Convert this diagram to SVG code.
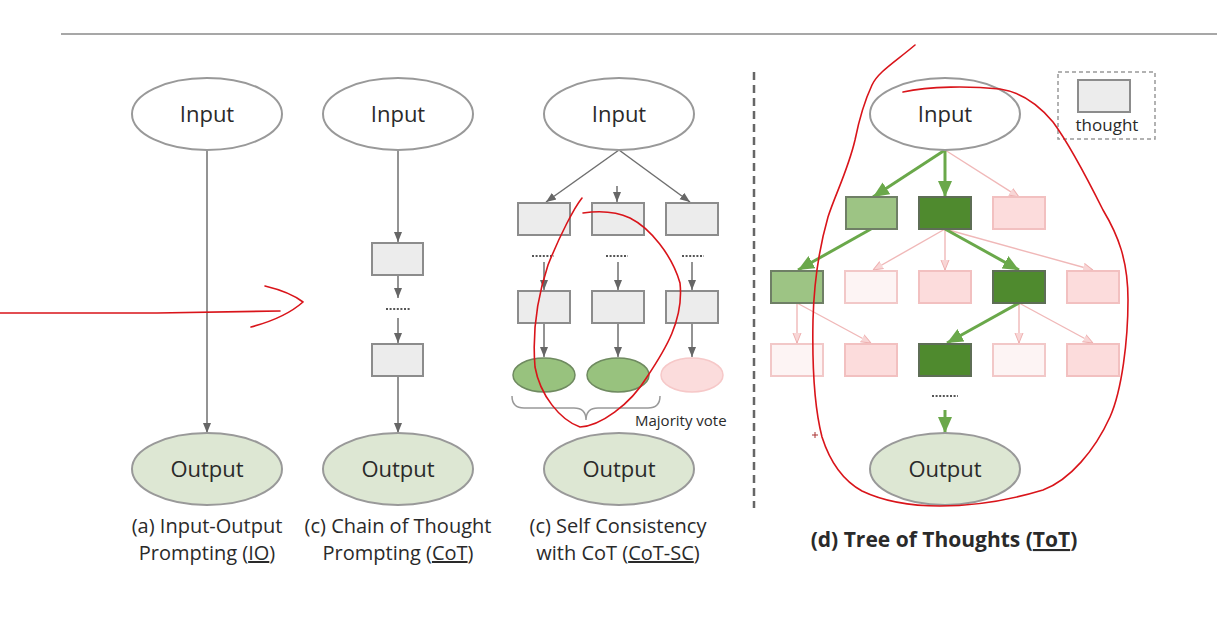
<svg xmlns="http://www.w3.org/2000/svg" width="1227" height="618" viewBox="0 0 1227 618">
<defs>
<marker id="ag" markerUnits="userSpaceOnUse" markerWidth="10" markerHeight="10" viewBox="0 0 10 10" refX="10" refY="5" orient="auto"><path d="M0,1 L10,5 L0,9 Z" fill="#666"/></marker>
<marker id="agr" markerUnits="userSpaceOnUse" markerWidth="16" markerHeight="14" viewBox="0 0 16 14" refX="16" refY="7" orient="auto"><path d="M0,0 L16,7 L0,14 Z" fill="#6aa84a"/></marker>
<marker id="apk" markerUnits="userSpaceOnUse" markerWidth="10" markerHeight="10" viewBox="0 0 10 10" refX="10" refY="5" orient="auto"><path d="M0,1 L10,5 L0,9" fill="#f8d6d6" stroke="#eeb0b0" stroke-width="1"/></marker>
</defs>
<style>
.t{font-family:"Open Sans","Liberation Sans",sans-serif;fill:#2a2a2a;}
.nl{font-size:22px;text-anchor:middle;}
.cap{font-size:20px;text-anchor:middle;}
.ein{fill:#fff;stroke:#999;stroke-width:2;}
.eout{fill:#dde7d3;stroke:#999;stroke-width:2;}
.gb{fill:#ececec;stroke:#8c8c8c;stroke-width:2;}
.gl{stroke:#6f6f6f;stroke-width:1.5;fill:none;}
.gre{stroke:#6aa84a;stroke-width:3;fill:none;}
.pke{stroke:#f0b8b8;stroke-width:1.4;fill:none;}
.dots{stroke:#555;stroke-width:2;stroke-dasharray:2 1.6;}
.lg{fill:#9dc484;stroke:#6f7f66;stroke-width:2;}
.dg{fill:#4f8a2e;stroke:#5e6e56;stroke-width:2;}
.pk{fill:#fcdcdc;stroke:#f2c0c0;stroke-width:2;}
.pp{fill:#fdf4f4;stroke:#f2c8c8;stroke-width:2;}
.red{stroke:#d9141a;stroke-width:1.6;fill:none;stroke-linecap:round;stroke-linejoin:round;}
</style>
<rect width="1227" height="618" fill="#fff"/>
<line x1="61" y1="34" x2="1217" y2="34" stroke="#8a8a8a" stroke-width="1.5"/>
<line x1="754" y1="72" x2="754" y2="508" stroke="#666" stroke-width="2.5" stroke-dasharray="8 5"/>

<g id="connectors">
<!-- IO -->
<line class="gl" x1="207" y1="150" x2="207" y2="433" marker-end="url(#ag)"/>
<!-- CoT -->
<line class="gl" x1="398" y1="150" x2="398" y2="242" marker-end="url(#ag)"/>
<line class="gl" x1="398" y1="276" x2="398" y2="298" marker-end="url(#ag)"/>
<line class="dots" x1="386" y1="309" x2="410" y2="309"/>
<line class="gl" x1="398" y1="318" x2="398" y2="343" marker-end="url(#ag)"/>
<line class="gl" x1="398" y1="377" x2="398" y2="433" marker-end="url(#ag)"/>
<!-- CoT-SC -->
<line class="gl" x1="619" y1="150" x2="546" y2="202" marker-end="url(#ag)"/>
<line class="gl" x1="617" y1="186" x2="617" y2="202" marker-end="url(#ag)"/>
<line class="gl" x1="619" y1="150" x2="690" y2="202" marker-end="url(#ag)"/>
<line class="dots" x1="532" y1="256" x2="554" y2="256"/>
<line class="dots" x1="606" y1="256" x2="628" y2="256"/>
<line class="dots" x1="682" y1="256" x2="704" y2="256"/>
<line class="gl" x1="544" y1="262" x2="544" y2="290" marker-end="url(#ag)"/>
<line class="gl" x1="618" y1="262" x2="618" y2="290" marker-end="url(#ag)"/>
<line class="gl" x1="692" y1="262" x2="692" y2="290" marker-end="url(#ag)"/>
<line class="gl" x1="544" y1="324" x2="544" y2="357" marker-end="url(#ag)"/>
<line class="gl" x1="618" y1="324" x2="618" y2="357" marker-end="url(#ag)"/>
<line class="gl" x1="692" y1="324" x2="692" y2="357" marker-end="url(#ag)"/>
<path d="M512,396 Q512,408 524,408 L574,408 Q586,408 586,420 Q586,408 598,408 L648,408 Q660,408 660,396" fill="none" stroke="#999" stroke-width="1.5"/>
<!-- ToT -->
<line class="pke" x1="945" y1="150" x2="1019" y2="197" marker-end="url(#apk)"/>
<line class="gre" x1="945" y1="150" x2="873" y2="197" marker-end="url(#agr)"/>
<line class="gre" x1="945" y1="150" x2="945" y2="197" marker-end="url(#agr)"/>
<line class="pke" x1="945" y1="229" x2="873" y2="270" marker-end="url(#apk)"/>
<line class="pke" x1="945" y1="229" x2="945" y2="270" marker-end="url(#apk)"/>
<line class="pke" x1="945" y1="229" x2="1093" y2="270" marker-end="url(#apk)"/>
<line class="gre" x1="945" y1="229" x2="1019" y2="270" marker-end="url(#agr)"/>
<line class="gre" x1="871" y1="229" x2="798" y2="270" marker-end="url(#agr)"/>
<line class="pke" x1="797" y1="303" x2="797" y2="343" marker-end="url(#apk)"/>
<line class="pke" x1="797" y1="303" x2="871" y2="343" marker-end="url(#apk)"/>
<line class="pke" x1="1019" y1="303" x2="1019" y2="343" marker-end="url(#apk)"/>
<line class="pke" x1="1019" y1="303" x2="1093" y2="343" marker-end="url(#apk)"/>
<line class="gre" x1="1019" y1="303" x2="947" y2="343" marker-end="url(#agr)"/>
<line class="dots" x1="932" y1="396" x2="958" y2="396"/>
<line class="gre" x1="945" y1="410" x2="945" y2="433" marker-end="url(#agr)"/>
</g>

<g id="io">
<g id="io-input"><ellipse class="ein" cx="207" cy="114" rx="75" ry="36"/><text class="t nl" x="207" y="122">Input</text></g>
<g id="io-output"><ellipse class="eout" cx="207" cy="469" rx="75" ry="36"/><text class="t nl" x="207" y="477">Output</text></g>
<text class="t cap" x="207" y="533">(a) Input-Output</text>
<text class="t cap" x="207" y="560">Prompting (<tspan text-decoration="underline">IO</tspan>)</text>
</g>

<g id="cot">
<g id="cot-input"><ellipse class="ein" cx="398" cy="114" rx="75" ry="36"/><text class="t nl" x="398" y="122">Input</text></g>
<rect id="cot-t1" class="gb" x="372" y="243" width="51" height="32"/>
<rect id="cot-t2" class="gb" x="372" y="344" width="51" height="32"/>
<g id="cot-output"><ellipse class="eout" cx="398" cy="469" rx="75" ry="36"/><text class="t nl" x="398" y="477">Output</text></g>
<text class="t cap" x="398" y="533">(c) Chain of Thought</text>
<text class="t cap" x="398" y="560">Prompting (<tspan text-decoration="underline">CoT</tspan>)</text>
</g>

<g id="cotsc">
<g id="sc-input"><ellipse class="ein" cx="619" cy="114" rx="75" ry="36"/><text class="t nl" x="619" y="122">Input</text></g>
<rect class="gb" x="518" y="203" width="52" height="32"/>
<rect class="gb" x="592" y="203" width="52" height="32"/>
<rect class="gb" x="666" y="203" width="52" height="32"/>
<rect class="gb" x="518" y="291" width="52" height="32"/>
<rect class="gb" x="592" y="291" width="52" height="32"/>
<rect class="gb" x="666" y="291" width="52" height="32"/>
<ellipse cx="544" cy="375" rx="31" ry="17" fill="#98c27e" stroke="#6f8a60" stroke-width="1.5"/>
<ellipse cx="618" cy="375" rx="31" ry="17" fill="#98c27e" stroke="#6f8a60" stroke-width="1.5"/>
<ellipse cx="692" cy="375" rx="31" ry="17" fill="#fbdcdc" stroke="#f6c8c8" stroke-width="1.5"/>
<text class="t" x="635" y="426" font-size="15">Majority vote</text>
<g id="sc-output"><ellipse class="eout" cx="619" cy="469" rx="75" ry="36"/><text class="t nl" x="619" y="477">Output</text></g>
<text class="t cap" x="618" y="533">(c) Self Consistency</text>
<text class="t cap" x="618" y="560">with CoT (<tspan text-decoration="underline">CoT-SC</tspan>)</text>
</g>

<g id="tot">
<g id="tot-input"><ellipse class="ein" cx="945" cy="114" rx="75" ry="36"/><text class="t nl" x="945" y="122">Input</text></g>
<g id="legend"><rect x="1058" y="72" width="97" height="67" fill="none" stroke="#999" stroke-width="1.5" stroke-dasharray="4 3"/><rect class="gb" x="1078" y="80" width="52" height="32"/><text class="t" x="1107" y="131" font-size="17" text-anchor="middle">thought</text></g>
<rect class="lg" x="846" y="197" width="51" height="32"/>
<rect class="dg" x="919" y="197" width="52" height="32"/>
<rect class="pk" x="993" y="197" width="52" height="32"/>
<rect class="lg" x="771" y="271" width="52" height="32"/>
<rect class="pp" x="845" y="271" width="52" height="32"/>
<rect class="pk" x="919" y="271" width="52" height="32"/>
<rect class="dg" x="993" y="271" width="52" height="32"/>
<rect class="pk" x="1067" y="271" width="52" height="32"/>
<rect class="pp" x="771" y="344" width="52" height="32"/>
<rect class="pk" x="845" y="344" width="52" height="32"/>
<rect class="dg" x="919" y="344" width="52" height="32"/>
<rect class="pp" x="993" y="344" width="52" height="32"/>
<rect class="pk" x="1067" y="344" width="52" height="32"/>
<g id="tot-output"><ellipse class="eout" cx="945" cy="469" rx="75" ry="36"/><text class="t nl" x="945" y="477">Output</text></g>
<text class="t" x="944" y="547" font-size="21" font-weight="bold" text-anchor="middle">(d) Tree of Thoughts (<tspan text-decoration="underline">ToT</tspan>)</text>
</g>

<g id="annotations">
<path class="red" d="M0,313 L157,313 L280,311"/>
<path class="red" d="M265,286 Q290,292 303,302 Q285,318 251,327"/>
<path class="red" d="M582,198 C574,208 560,235 548,265 C538,295 532,330 535,367 C540,395 560,420 580,427 C600,426 630,405 647,377 C665,350 684,320 680,283 C672,255 650,228 630,218 C615,211 596,211 583,213"/>
<path class="red" d="M915,45 C895,62 878,72 872,85 C865,100 860,115 855,140 C848,170 835,195 828,217 C820,245 814,280 813,320 C812,370 815,410 822,437 C830,462 842,480 862,491 C885,502 910,506 940,506 C975,506 1010,500 1043,490 C1070,480 1095,450 1110,417 C1122,390 1128,340 1128,300 C1128,260 1118,235 1103,210 C1088,180 1070,145 1053,122 C1038,104 1020,92 1000,89 C970,86 930,86 903,92"/>
<path d="M812,435 h6 M815,432 v6" stroke="#a33" stroke-width="1"/>
</g>
</svg>
